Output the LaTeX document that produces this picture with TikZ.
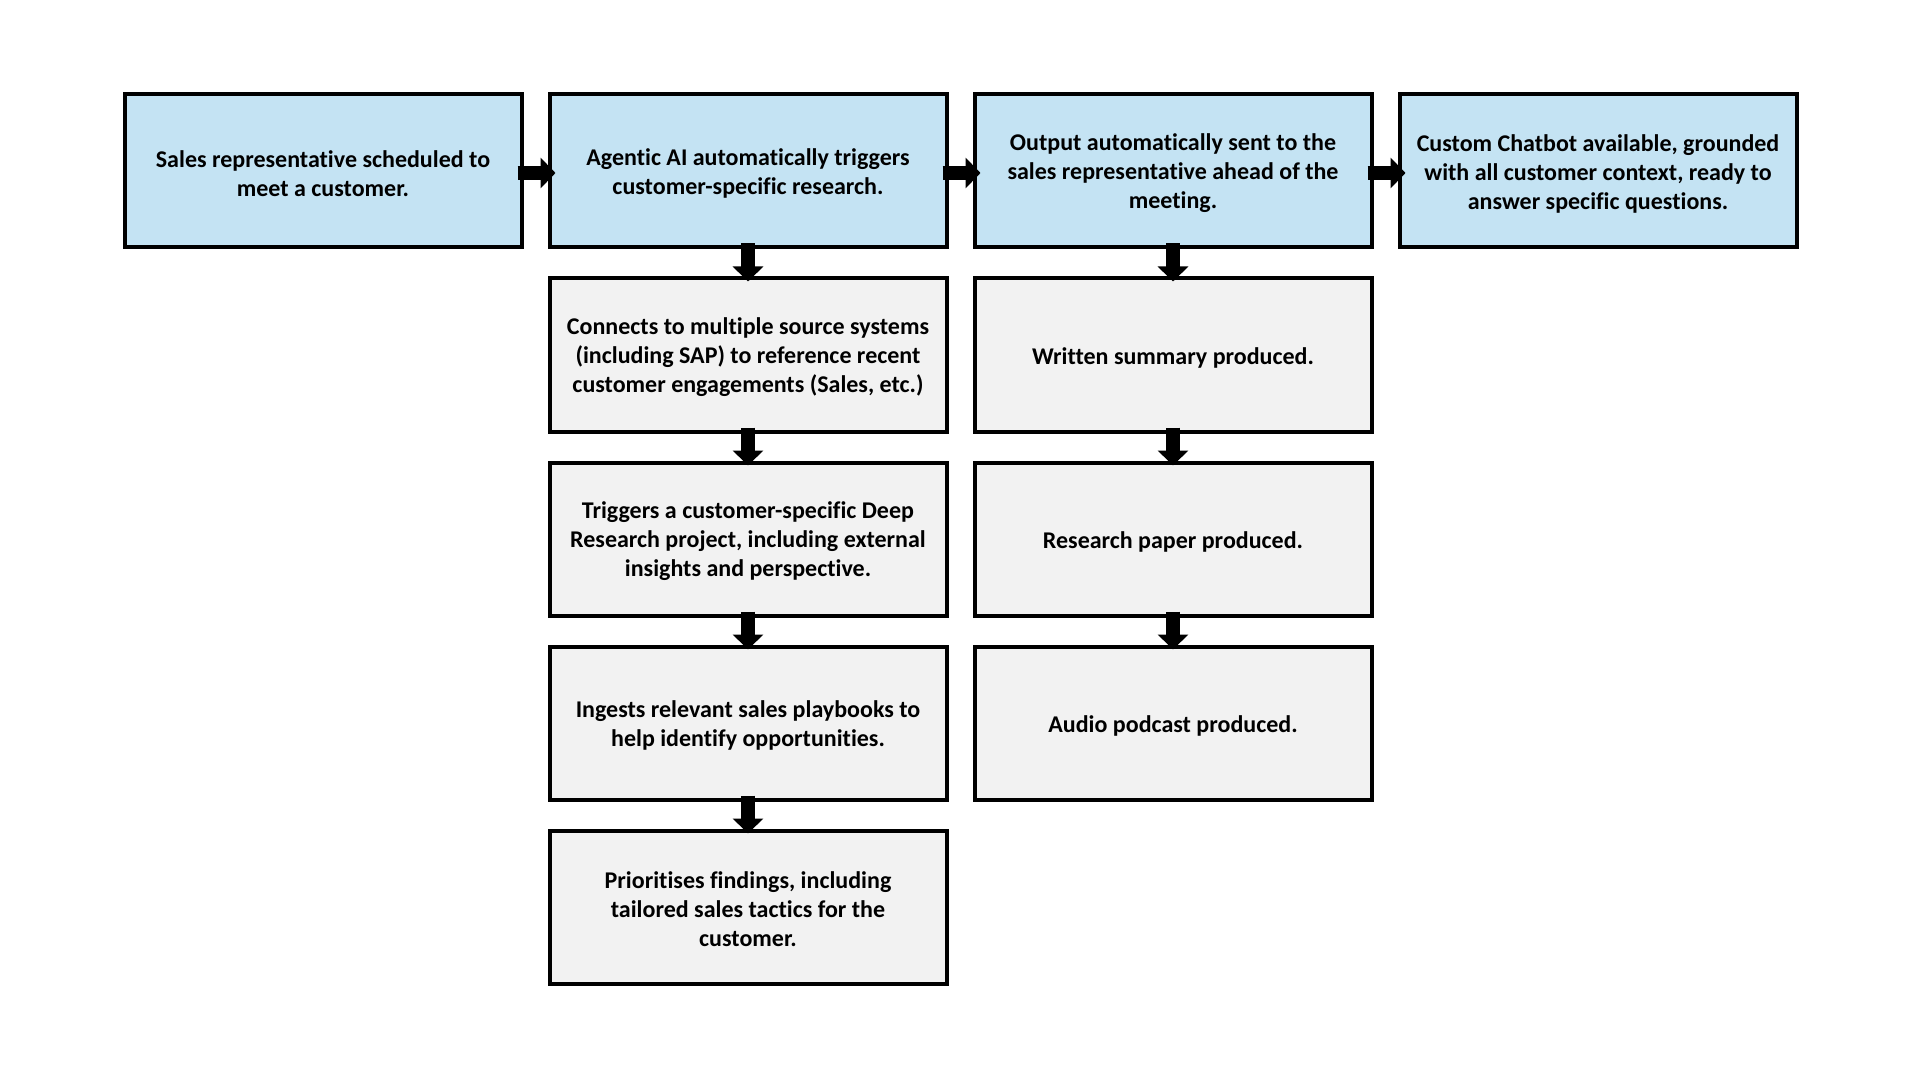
\documentclass[tikz,border=0pt]{standalone}
\usepackage{fontspec}
\setmainfont{Carlito}[Ligatures=CommonOff]
\usetikzlibrary{arrows.meta}
\definecolor{bluefill}{RGB}{196,227,243}
\definecolor{grayfill}{RGB}{242,242,242}
\newcommand{\mytopstrut}{\rule{0pt}{11pt}}
\begin{document}
\begin{tikzpicture}[x=0.5pt,y=-0.5pt,
  box/.style={draw=black,line width=2pt,minimum width=198.5pt,minimum height=76.5pt,
    align=center,inner sep=0pt,font=\bfseries\fontsize{12pt}{14.5pt}\selectfont},
  bluebox/.style={box,fill=bluefill},
  graybox/.style={box,fill=grayfill},
  flow/.style={line width=7pt,-{Triangle[length=7.5pt,width=15pt]}}]
\useasboundingbox[fill=white] (0,0) rectangle (1920,1080);
% top row
\node[bluebox] (a1) at (323,171) {\mytopstrut Sales representative scheduled to\\meet a customer.};
\node[bluebox] (b1) at (748,171) {\mytopstrut Agentic AI automatically triggers\\customer-specific research.};
\node[bluebox] (c1) at (1173,171) {\mytopstrut Output automatically sent to the\\sales representative ahead of the\\meeting.};
\node[bluebox] (d1) at (1598,171) {\mytopstrut Custom Chatbot available, grounded\\with all customer context, ready to\\answer specific questions.};
% column b
\node[graybox] (b2) at (748,355) {\mytopstrut Connects to multiple source systems\\(including SAP) to reference recent\\customer engagements (Sales, etc.)};
\node[graybox] (b3) at (748,539) {\mytopstrut Triggers a customer-specific Deep\\Research project, including external\\insights and perspective.};
\node[graybox] (b4) at (748,723) {\mytopstrut Ingests relevant sales playbooks to\\help identify opportunities.};
\node[graybox] (b5) at (748,907) {\mytopstrut Prioritises findings, including\\tailored sales tactics for the\\customer.};
% column c
\node[graybox] (c2) at (1173,355) {\mytopstrut Written summary produced.};
\node[graybox] (c3) at (1173,539) {\mytopstrut Research paper produced.};
\node[graybox] (c4) at (1173,723) {\mytopstrut Audio podcast produced.};
% horizontal arrows
\draw[flow] ([xshift=-3pt,yshift=-1pt]a1.east) -- ([xshift=4pt,yshift=-1pt]b1.west);
\draw[flow] ([xshift=-3pt,yshift=-1pt]b1.east) -- ([xshift=4pt,yshift=-1pt]c1.west);
\draw[flow] ([xshift=-3pt,yshift=-1pt]c1.east) -- ([xshift=4pt,yshift=-1pt]d1.west);
% vertical arrows
\draw[flow] ([yshift=3pt]b1.south) -- ([yshift=-2.5pt]b2.north);
\draw[flow] ([yshift=3pt]b2.south) -- ([yshift=-2.5pt]b3.north);
\draw[flow] ([yshift=3pt]b3.south) -- ([yshift=-2.5pt]b4.north);
\draw[flow] ([yshift=3pt]b4.south) -- ([yshift=-2.5pt]b5.north);
\draw[flow] ([yshift=3pt]c1.south) -- ([yshift=-2.5pt]c2.north);
\draw[flow] ([yshift=3pt]c2.south) -- ([yshift=-2.5pt]c3.north);
\draw[flow] ([yshift=3pt]c3.south) -- ([yshift=-2.5pt]c4.north);
\end{tikzpicture}
\end{document}
